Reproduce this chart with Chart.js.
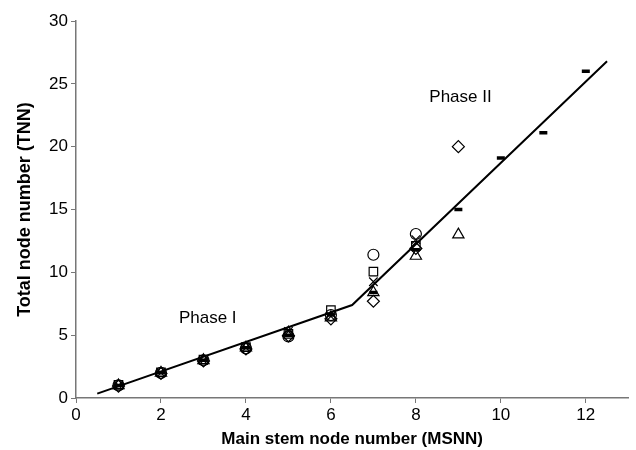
<!DOCTYPE html>
<html>
<head>
<meta charset="utf-8">
<script src="https://cdn.jsdelivr.net/npm/chart.js@4/dist/chart.umd.min.js"></script>
<style>
  html, body { margin: 0; padding: 0; background: #fff; }
  #wrap { width: 636px; height: 450px; }
</style>
</head>
<body>
<div id="wrap"><canvas id="myChart" width="636" height="450"></canvas></div>
<script>
// main stem node number, one entry per observation column
var msnn = [1, 2, 3, 4, 5, 6, 7, 8, 9, 10, 11, 12];

// total node number per treatment (null = not measured)
var tnnDiamond  = [0.95, 1.95, 2.95, 3.9, 4.95, 6.3, 7.7, 11.9, 20, null, null, null];
var tnnSquare   = [1.05, 2.05, 3.05, 4.05, 5.1, 7.0, 10.05, 12.1, null, null, null, null];
var tnnTriangle = [1, 2, 3, 4, 5.2, 6.4, 8.4, 11.3, 13, null, null, null];
var tnnCross    = [1, 2, 3, 4, 5.3, 6.5, 9.25, 12.6, null, null, null, null];
var tnnCircle   = [1, 2, 3, 3.95, 4.9, 6.6, 11.4, 13.05, null, null, null, null];
var tnnDash     = [1, 2, 3, 4, 5.0, 6.6, 8.4, 11.8, 15, 19.1, 21.1, 26];

// broken-stick fit (phase I / phase II)
var fitX = [0.5, 6.5, 12.5];
var fitY = [0.35, 7.4, 26.8];

// phase labels, in data units
var phaseText = ["Phase I", "Phase II"];
var phaseX = [3.1, 9.05];
var phaseY = [6.36, 23.9];

var xTicks = [0, 2, 4, 6, 8, 10, 12];

function pts(ys) {
  var out = [];
  ys.forEach(function (y, i) {
    if (y !== null) out.push({ x: msnn[i], y: y });
  });
  return out;
}

function markerSet(label, ys, style, radius, width) {
  return {
    label: label,
    data: pts(ys),
    pointStyle: style,
    pointRadius: radius,
    pointBorderColor: "#000",
    pointBackgroundColor: "rgba(0,0,0,0)",
    pointBorderWidth: width,
    showLine: false,
  };
}

var phaseLabels = {
  id: "phaseLabels",
  afterDatasetsDraw: function (chart) {
    var ctx = chart.ctx;
    var xs = chart.scales.x;
    var ys = chart.scales.y;
    ctx.save();
    ctx.fillStyle = "#000";
    ctx.font = "17px Arial, 'Liberation Sans', sans-serif";
    ctx.textAlign = "center";
    ctx.textBaseline = "middle";
    phaseText.forEach(function (t, i) {
      ctx.fillText(t, xs.getPixelForValue(phaseX[i]), ys.getPixelForValue(phaseY[i]));
    });
    ctx.restore();
  },
};

var font = "Arial, 'Liberation Sans', sans-serif";

var ctx = document.getElementById("myChart").getContext("2d");
var myChart = new Chart(ctx, {
  type: "scatter",
  data: {
    datasets: [
      {
        label: "fit",
        data: fitX.map(function (x, i) { return { x: x, y: fitY[i] }; }),
        showLine: true,
        borderColor: "#000",
        borderWidth: 2,
        pointRadius: 0,
        tension: 0,
        order: 10,
      },
      markerSet("diamond", tnnDiamond, "rectRot", 6, 1.2),
      markerSet("square", tnnSquare, "rect", 6, 1.2),
      markerSet("triangle", tnnTriangle, "triangle", 6.5, 1.2),
      markerSet("cross", tnnCross, "crossRot", 6, 1.2),
      markerSet("circle", tnnCircle, "circle", 5.5, 1.2),
      markerSet("dash", tnnDash, "line", 4, 3.5),
    ],
  },
  options: {
    responsive: false,
    animation: false,
    events: [],
    layout: { padding: { top: 21, right: 2, left: 0, bottom: 0 } },
    plugins: {
      legend: { display: false },
      tooltip: { enabled: false },
    },
    scales: {
      x: {
        type: "linear",
        min: 0,
        max: 13,
        afterFit: function (s) { s.height = 52; },
        afterBuildTicks: function (s) {
          s.ticks = xTicks.map(function (v) { return { value: v }; });
        },
        grid: { drawOnChartArea: false, tickLength: 5, color: "#777" },
        border: { color: "#777", width: 1.5 },
        ticks: { color: "#000", font: { family: font, size: 17 }, padding: 2 },
        title: {
          display: true,
          text: "Main stem node number (MSNN)",
          color: "#000",
          font: { family: font, size: 17, weight: "bold" },
          padding: { top: 0, bottom: 0 },
        },
      },
      y: {
        type: "linear",
        min: 0,
        max: 30,
        afterFit: function (s) { s.width = 76; },
        grid: { drawOnChartArea: false, tickLength: 5, color: "#777" },
        border: { color: "#777", width: 1.5 },
        ticks: { stepSize: 5, color: "#000", font: { family: font, size: 17 }, padding: 3 },
        title: {
          display: true,
          text: "Total node number (TNN)",
          color: "#000",
          font: { family: font, size: 18, weight: "bold" },
          padding: { top: 14, bottom: 0 },
        },
      },
    },
  },
  plugins: [phaseLabels],
});
</script>
</body>
</html>
